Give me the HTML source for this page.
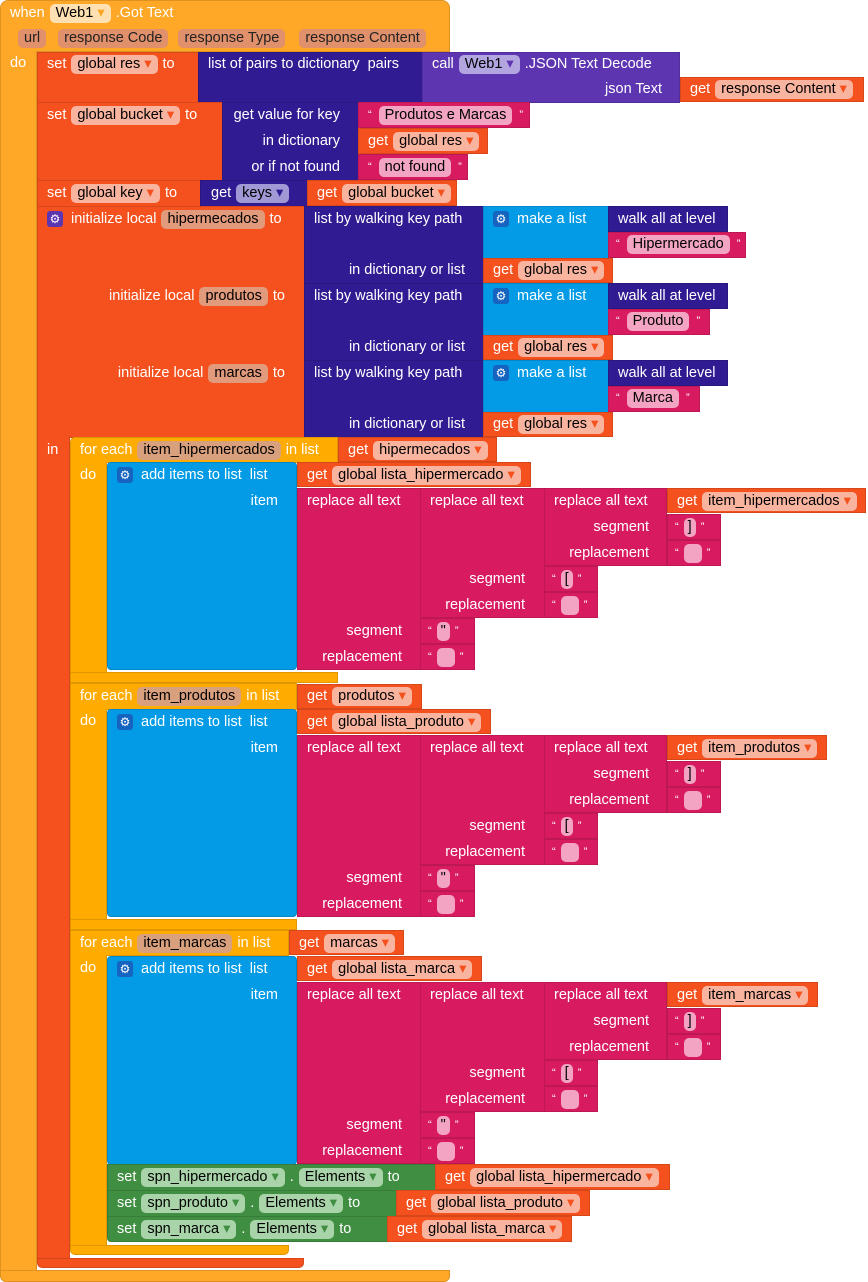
<!DOCTYPE html><html><head><meta charset="utf-8"><style>
body{margin:0;width:868px;height:1282px;background:#fff;position:relative;overflow:hidden;font-family:"Liberation Sans",sans-serif}
.b{position:absolute;box-sizing:border-box;border:1px solid rgba(0,0,0,.12)}
.ev{background:#FFA726}.vr{background:#F4511E}.dc{background:#311B92}.cp{background:#5E35B1}.tx{background:#D81B60}.ls{background:#039BE5}.fe{background:#FFAB00}.gr{background:#3F8E41}
.l{position:absolute;height:26px;line-height:26px;color:#fff;font-size:14.5px;white-space:nowrap;display:flex;align-items:center}
.r{justify-content:flex-end}
.p{display:inline-block;line-height:19px;padding:0 6px;border-radius:5px;color:#000;margin:0 5px;font-size:14.5px}
.pv{background:#F9B4A0}.pw{background:#FFE0B2}.pr{background:#E0906A;color:#222}.pd{background:#B3A6E0}.pk{background:#A198D6}.pt{background:#F2A4C2}.pg{background:#A9D4A9}.pl{background:#E29A7C}
.g{display:inline-block;width:16px;height:16px;background:#5E35B1;border-radius:3px;color:#fff;font-size:12px;line-height:16px;text-align:center;margin-right:8px}
.gb{background:#1565C0}
.q{font-size:11px;margin:0 2px}
</style></head><body>
<!-- event -->
<div class="b ev" style="left:0;top:0;width:450px;height:52px;border-radius:8px 8px 0 0"></div>
<div class="b ev" style="left:0;top:51px;width:37px;height:1221px;border-top:0"></div>
<div class="b ev" style="left:0;top:1270px;width:450px;height:12px;border-radius:0 0 6px 6px"></div>
<div class="l" style="left:10px;top:0">when<span class="p pw">Web1 <span style="color:#F9A825">▾</span></span>.Got Text</div>
<div class="l" style="left:13px;top:25px"><span class="p pr">url</span><span class="p pr" style="margin-left:7px">response Code</span><span class="p pr" style="margin-left:5px">response Type</span><span class="p pr" style="margin-left:9px">response Content</span></div>
<div class="l" style="left:10px;top:50px">do</div>

<!-- set res -->
<div class="b vr" style="left:37px;top:52px;width:162px;height:51px"></div>
<div class="b dc" style="left:198px;top:52px;width:225px;height:51px"></div>
<div class="b cp" style="left:422px;top:52px;width:258px;height:51px"></div>
<div class="b vr" style="left:680px;top:77px;width:184px;height:25px"></div>
<div class="l" style="left:47px;top:51px">set<span class="p pv">global res <span style="color:#F4511E">▾</span></span>to</div>
<div class="l" style="left:208px;top:51px">list of pairs to dictionary&nbsp;&nbsp;pairs</div>
<div class="l" style="left:432px;top:51px">call<span class="p pd">Web1 <span style="color:#5E35B1">▾</span></span>.JSON Text Decode</div>
<div class="l r" style="right:206px;top:76px">json Text</div>
<div class="l" style="left:690px;top:76px">get<span class="p pv">response Content <span style="color:#F4511E">▾</span></span></div>

<!-- set bucket -->
<div class="b vr" style="left:37px;top:102px;width:186px;height:79px"></div>
<div class="b dc" style="left:222px;top:102px;width:137px;height:79px"></div>
<div class="b tx" style="left:358px;top:102px;width:172px;height:26px"></div>
<div class="b vr" style="left:358px;top:128px;width:130px;height:26px"></div>
<div class="b tx" style="left:358px;top:154px;width:110px;height:26px"></div>
<div class="l" style="left:47px;top:102px">set<span class="p pv">global bucket <span style="color:#F4511E">▾</span></span>to</div>
<div class="l r" style="right:528px;top:102px">get value for key</div>
<div class="l r" style="right:528px;top:128px">in dictionary</div>
<div class="l r" style="right:528px;top:154px">or if not found</div>
<div class="l" style="left:366px;top:102px"><span class="q">“</span><span class="p pt">Produtos e Marcas</span><span class="q">”</span></div>
<div class="l" style="left:368px;top:128px">get<span class="p pv">global res <span style="color:#F4511E">▾</span></span></div>
<div class="l" style="left:366px;top:154px"><span class="q">“</span><span class="p pt">not found</span><span class="q">”</span></div>

<!-- set key -->
<div class="b vr" style="left:37px;top:180px;width:164px;height:27px"></div>
<div class="b dc" style="left:200px;top:180px;width:108px;height:27px"></div>
<div class="b vr" style="left:307px;top:180px;width:150px;height:26px"></div>
<div class="l" style="left:47px;top:180px">set<span class="p pv">global key <span style="color:#F4511E">▾</span></span>to</div>
<div class="l" style="left:211px;top:180px">get<span class="p pk">keys <span style="color:#311B92">▾</span></span></div>
<div class="l" style="left:317px;top:180px">get<span class="p pv">global bucket <span style="color:#F4511E">▾</span></span></div>

<!-- init local -->
<div class="b vr" style="left:37px;top:206px;width:268px;height:232px"></div>
<div class="b vr" style="left:37px;top:436px;width:33px;height:824px;border-top:0"></div>
<div class="b vr" style="left:37px;top:1258px;width:267px;height:10px;border-radius:0 0 5px 5px"></div>
<div class="l" style="left:47px;top:206px"><span class="g">⚙</span>initialize local<span class="p pl">hipermecados</span>to</div>
<div class="l r" style="right:583px;top:283px">initialize local<span class="p pl">produtos</span>to</div>
<div class="l r" style="right:583px;top:360px">initialize local<span class="p pl">marcas</span>to</div>
<div class="l" style="left:47px;top:437px">in</div>

<div class="b dc" style="left:304px;top:206px;width:180px;height:78px"></div>
<div class="b dc" style="left:304px;top:283px;width:180px;height:78px"></div>
<div class="b dc" style="left:304px;top:360px;width:180px;height:78px"></div>
<div class="b ls" style="left:483px;top:206px;width:126px;height:53px"></div>
<div class="b ls" style="left:483px;top:283px;width:126px;height:53px"></div>
<div class="b ls" style="left:483px;top:360px;width:126px;height:53px"></div>
<div class="b dc" style="left:608px;top:206px;width:120px;height:26px"></div>
<div class="b dc" style="left:608px;top:283px;width:120px;height:26px"></div>
<div class="b dc" style="left:608px;top:360px;width:120px;height:26px"></div>
<div class="b tx" style="left:608px;top:232px;width:138px;height:26px"></div>
<div class="b tx" style="left:608px;top:309px;width:102px;height:26px"></div>
<div class="b tx" style="left:608px;top:386px;width:92px;height:26px"></div>
<div class="b vr" style="left:483px;top:258px;width:130px;height:25px"></div>
<div class="b vr" style="left:483px;top:335px;width:130px;height:25px"></div>
<div class="b vr" style="left:483px;top:412px;width:130px;height:25px"></div>
<div class="l" style="left:314px;top:206px">list by walking key path</div>
<div class="l" style="left:314px;top:283px">list by walking key path</div>
<div class="l" style="left:314px;top:360px">list by walking key path</div>
<div class="l r" style="right:403px;top:257px">in dictionary or list</div>
<div class="l r" style="right:403px;top:334px">in dictionary or list</div>
<div class="l r" style="right:403px;top:411px">in dictionary or list</div>
<div class="l" style="left:493px;top:206px"><span class="g gb">⚙</span>make a list</div>
<div class="l" style="left:493px;top:283px"><span class="g gb">⚙</span>make a list</div>
<div class="l" style="left:493px;top:360px"><span class="g gb">⚙</span>make a list</div>
<div class="l" style="left:618px;top:206px">walk all at level</div>
<div class="l" style="left:618px;top:283px">walk all at level</div>
<div class="l" style="left:618px;top:360px">walk all at level</div>
<div class="l" style="left:614px;top:231px"><span class="q">“</span><span class="p pt">Hipermercado</span><span class="q">”</span></div>
<div class="l" style="left:614px;top:308px"><span class="q">“</span><span class="p pt">Produto</span><span class="q">”</span></div>
<div class="l" style="left:614px;top:385px"><span class="q">“</span><span class="p pt">Marca</span><span class="q">”</span></div>
<div class="l" style="left:493px;top:257px">get<span class="p pv">global res <span style="color:#F4511E">▾</span></span></div>
<div class="l" style="left:493px;top:334px">get<span class="p pv">global res <span style="color:#F4511E">▾</span></span></div>
<div class="l" style="left:493px;top:411px">get<span class="p pv">global res <span style="color:#F4511E">▾</span></span></div>

<!-- for each 1 -->
<div class="b fe" style="left:70px;top:437px;width:268px;height:26px;border-radius:5px 0 0 0"></div>
<div class="b fe" style="left:70px;top:462px;width:37px;height:211px;border-top:0"></div>
<div class="b fe" style="left:70px;top:672px;width:268px;height:11px"></div>
<div class="b vr" style="left:338px;top:437px;width:159px;height:25px"></div>
<div class="l" style="left:80px;top:437px">for each<span class="p" style="background:#D9A07E">item_hipermercados</span>in list</div>
<div class="l" style="left:348px;top:437px">get<span class="p pv">hipermecados <span style="color:#F4511E">▾</span></span></div>
<div class="l" style="left:80px;top:462px">do</div>

<!-- for each 2 -->
<div class="b fe" style="left:70px;top:683px;width:227px;height:27px"></div>
<div class="b fe" style="left:70px;top:709px;width:37px;height:211px;border-top:0"></div>
<div class="b fe" style="left:70px;top:919px;width:227px;height:11px"></div>
<div class="b vr" style="left:297px;top:684px;width:125px;height:25px"></div>
<div class="l" style="left:80px;top:683px">for each<span class="p" style="background:#D9A07E">item_produtos</span>in list</div>
<div class="l" style="left:307px;top:683px">get<span class="p pv">produtos <span style="color:#F4511E">▾</span></span></div>
<div class="l" style="left:80px;top:708px">do</div>

<!-- for each 3 -->
<div class="b fe" style="left:70px;top:930px;width:219px;height:26px"></div>
<div class="b fe" style="left:70px;top:955px;width:37px;height:291px;border-top:0"></div>
<div class="b fe" style="left:70px;top:1245px;width:219px;height:10px;border-radius:0 0 5px 5px"></div>
<div class="b vr" style="left:289px;top:930px;width:115px;height:25px"></div>
<div class="l" style="left:80px;top:930px">for each<span class="p" style="background:#D9A07E">item_marcas</span>in list</div>
<div class="l" style="left:299px;top:930px">get<span class="p pv">marcas <span style="color:#F4511E">▾</span></span></div>
<div class="l" style="left:80px;top:955px">do</div>

<!-- add items 1 (d=0) -->
<div class="b ls" style="left:107px;top:462px;width:190px;height:208px;border-radius:4px"></div>
<div class="b vr" style="left:297px;top:462px;width:234px;height:25px"></div>
<div class="b tx" style="left:297px;top:488px;width:124px;height:182px"></div>
<div class="b tx" style="left:420px;top:488px;width:125px;height:130px"></div>
<div class="b tx" style="left:544px;top:488px;width:123px;height:78px"></div>
<div class="b vr" style="left:667px;top:488px;width:199px;height:25px"></div>
<div class="b tx" style="left:667px;top:514px;width:54px;height:26px"></div>
<div class="b tx" style="left:667px;top:540px;width:54px;height:26px"></div>
<div class="b tx" style="left:544px;top:566px;width:54px;height:26px"></div>
<div class="b tx" style="left:544px;top:592px;width:54px;height:26px"></div>
<div class="b tx" style="left:420px;top:618px;width:55px;height:26px"></div>
<div class="b tx" style="left:420px;top:644px;width:55px;height:26px"></div>
<div class="l" style="left:117px;top:462px"><span class="g gb">⚙</span>add items to list&nbsp;&nbsp;list</div>
<div class="l r" style="right:590px;top:488px">item</div>
<div class="l" style="left:307px;top:462px">get<span class="p pv">global lista_hipermercado <span style="color:#F4511E">▾</span></span></div>
<div class="l" style="left:307px;top:488px">replace all text</div>
<div class="l" style="left:430px;top:488px">replace all text</div>
<div class="l" style="left:554px;top:488px">replace all text</div>
<div class="l" style="left:677px;top:488px">get<span class="p pv">item_hipermercados <span style="color:#F4511E">▾</span></span></div>
<div class="l r" style="right:219px;top:514px">segment</div>
<div class="l r" style="right:219px;top:540px">replacement</div>
<div class="l r" style="right:343px;top:566px">segment</div>
<div class="l r" style="right:343px;top:592px">replacement</div>
<div class="l r" style="right:466px;top:618px">segment</div>
<div class="l r" style="right:466px;top:644px">replacement</div>
<div class="l" style="left:673px;top:514px"><span class="q">“</span><span class="p pt" style="padding:0 4px;margin:0 3px">]</span><span class="q">”</span></div>
<div class="l" style="left:673px;top:540px"><span class="q">“</span><span class="p pt" style="padding:0 7px;margin:0 3px">&nbsp;</span><span class="q">”</span></div>
<div class="l" style="left:550px;top:566px"><span class="q">“</span><span class="p pt" style="padding:0 4px;margin:0 3px">[</span><span class="q">”</span></div>
<div class="l" style="left:550px;top:592px"><span class="q">“</span><span class="p pt" style="padding:0 7px;margin:0 3px">&nbsp;</span><span class="q">”</span></div>
<div class="l" style="left:426px;top:618px"><span class="q">“</span><span class="p pt" style="padding:0 4px;margin:0 3px">"</span><span class="q">”</span></div>
<div class="l" style="left:426px;top:644px"><span class="q">“</span><span class="p pt" style="padding:0 7px;margin:0 3px">&nbsp;</span><span class="q">”</span></div>

<!-- add items 2 (d=247) -->
<div class="b ls" style="left:107px;top:709px;width:190px;height:208px;border-radius:4px"></div>
<div class="b vr" style="left:297px;top:709px;width:194px;height:25px"></div>
<div class="b tx" style="left:297px;top:735px;width:124px;height:182px"></div>
<div class="b tx" style="left:420px;top:735px;width:125px;height:130px"></div>
<div class="b tx" style="left:544px;top:735px;width:123px;height:78px"></div>
<div class="b vr" style="left:667px;top:735px;width:160px;height:25px"></div>
<div class="b tx" style="left:667px;top:761px;width:54px;height:26px"></div>
<div class="b tx" style="left:667px;top:787px;width:54px;height:26px"></div>
<div class="b tx" style="left:544px;top:813px;width:54px;height:26px"></div>
<div class="b tx" style="left:544px;top:839px;width:54px;height:26px"></div>
<div class="b tx" style="left:420px;top:865px;width:55px;height:26px"></div>
<div class="b tx" style="left:420px;top:891px;width:55px;height:26px"></div>
<div class="l" style="left:117px;top:709px"><span class="g gb">⚙</span>add items to list&nbsp;&nbsp;list</div>
<div class="l r" style="right:590px;top:735px">item</div>
<div class="l" style="left:307px;top:709px">get<span class="p pv">global lista_produto <span style="color:#F4511E">▾</span></span></div>
<div class="l" style="left:307px;top:735px">replace all text</div>
<div class="l" style="left:430px;top:735px">replace all text</div>
<div class="l" style="left:554px;top:735px">replace all text</div>
<div class="l" style="left:677px;top:735px">get<span class="p pv">item_produtos <span style="color:#F4511E">▾</span></span></div>
<div class="l r" style="right:219px;top:761px">segment</div>
<div class="l r" style="right:219px;top:787px">replacement</div>
<div class="l r" style="right:343px;top:813px">segment</div>
<div class="l r" style="right:343px;top:839px">replacement</div>
<div class="l r" style="right:466px;top:865px">segment</div>
<div class="l r" style="right:466px;top:891px">replacement</div>
<div class="l" style="left:673px;top:761px"><span class="q">“</span><span class="p pt" style="padding:0 4px;margin:0 3px">]</span><span class="q">”</span></div>
<div class="l" style="left:673px;top:787px"><span class="q">“</span><span class="p pt" style="padding:0 7px;margin:0 3px">&nbsp;</span><span class="q">”</span></div>
<div class="l" style="left:550px;top:813px"><span class="q">“</span><span class="p pt" style="padding:0 4px;margin:0 3px">[</span><span class="q">”</span></div>
<div class="l" style="left:550px;top:839px"><span class="q">“</span><span class="p pt" style="padding:0 7px;margin:0 3px">&nbsp;</span><span class="q">”</span></div>
<div class="l" style="left:426px;top:865px"><span class="q">“</span><span class="p pt" style="padding:0 4px;margin:0 3px">"</span><span class="q">”</span></div>
<div class="l" style="left:426px;top:891px"><span class="q">“</span><span class="p pt" style="padding:0 7px;margin:0 3px">&nbsp;</span><span class="q">”</span></div>

<!-- add items 3 (d=494) -->
<div class="b ls" style="left:107px;top:956px;width:190px;height:209px;border-radius:4px"></div>
<div class="b vr" style="left:297px;top:956px;width:185px;height:25px"></div>
<div class="b tx" style="left:297px;top:982px;width:124px;height:182px"></div>
<div class="b tx" style="left:420px;top:982px;width:125px;height:130px"></div>
<div class="b tx" style="left:544px;top:982px;width:123px;height:78px"></div>
<div class="b vr" style="left:667px;top:982px;width:151px;height:25px"></div>
<div class="b tx" style="left:667px;top:1008px;width:54px;height:26px"></div>
<div class="b tx" style="left:667px;top:1034px;width:54px;height:26px"></div>
<div class="b tx" style="left:544px;top:1060px;width:54px;height:26px"></div>
<div class="b tx" style="left:544px;top:1086px;width:54px;height:26px"></div>
<div class="b tx" style="left:420px;top:1112px;width:55px;height:26px"></div>
<div class="b tx" style="left:420px;top:1138px;width:55px;height:26px"></div>
<div class="l" style="left:117px;top:956px"><span class="g gb">⚙</span>add items to list&nbsp;&nbsp;list</div>
<div class="l r" style="right:590px;top:982px">item</div>
<div class="l" style="left:307px;top:956px">get<span class="p pv">global lista_marca <span style="color:#F4511E">▾</span></span></div>
<div class="l" style="left:307px;top:982px">replace all text</div>
<div class="l" style="left:430px;top:982px">replace all text</div>
<div class="l" style="left:554px;top:982px">replace all text</div>
<div class="l" style="left:677px;top:982px">get<span class="p pv">item_marcas <span style="color:#F4511E">▾</span></span></div>
<div class="l r" style="right:219px;top:1008px">segment</div>
<div class="l r" style="right:219px;top:1034px">replacement</div>
<div class="l r" style="right:343px;top:1060px">segment</div>
<div class="l r" style="right:343px;top:1086px">replacement</div>
<div class="l r" style="right:466px;top:1112px">segment</div>
<div class="l r" style="right:466px;top:1138px">replacement</div>
<div class="l" style="left:673px;top:1008px"><span class="q">“</span><span class="p pt" style="padding:0 4px;margin:0 3px">]</span><span class="q">”</span></div>
<div class="l" style="left:673px;top:1034px"><span class="q">“</span><span class="p pt" style="padding:0 7px;margin:0 3px">&nbsp;</span><span class="q">”</span></div>
<div class="l" style="left:550px;top:1060px"><span class="q">“</span><span class="p pt" style="padding:0 4px;margin:0 3px">[</span><span class="q">”</span></div>
<div class="l" style="left:550px;top:1086px"><span class="q">“</span><span class="p pt" style="padding:0 7px;margin:0 3px">&nbsp;</span><span class="q">”</span></div>
<div class="l" style="left:426px;top:1112px"><span class="q">“</span><span class="p pt" style="padding:0 4px;margin:0 3px">"</span><span class="q">”</span></div>
<div class="l" style="left:426px;top:1138px"><span class="q">“</span><span class="p pt" style="padding:0 7px;margin:0 3px">&nbsp;</span><span class="q">”</span></div>

<!-- green setters -->
<div class="b gr" style="left:107px;top:1164px;width:329px;height:27px"></div>
<div class="b gr" style="left:107px;top:1190px;width:290px;height:27px"></div>
<div class="b gr" style="left:107px;top:1216px;width:281px;height:26px;border-radius:0 0 0 4px"></div>
<div class="b vr" style="left:435px;top:1164px;width:235px;height:26px"></div>
<div class="b vr" style="left:396px;top:1190px;width:194px;height:26px"></div>
<div class="b vr" style="left:387px;top:1216px;width:185px;height:26px"></div>
<div class="l" style="left:117px;top:1164px">set<span class="p pg">spn_hipermercado <span style="color:#3F8E41">▾</span></span>.<span class="p pg">Elements <span style="color:#3F8E41">▾</span></span>to</div>
<div class="l" style="left:117px;top:1190px">set<span class="p pg">spn_produto <span style="color:#3F8E41">▾</span></span>.<span class="p pg">Elements <span style="color:#3F8E41">▾</span></span>to</div>
<div class="l" style="left:117px;top:1216px">set<span class="p pg">spn_marca <span style="color:#3F8E41">▾</span></span>.<span class="p pg">Elements <span style="color:#3F8E41">▾</span></span>to</div>
<div class="l" style="left:445px;top:1164px">get<span class="p pv">global lista_hipermercado <span style="color:#F4511E">▾</span></span></div>
<div class="l" style="left:406px;top:1190px">get<span class="p pv">global lista_produto <span style="color:#F4511E">▾</span></span></div>
<div class="l" style="left:397px;top:1216px">get<span class="p pv">global lista_marca <span style="color:#F4511E">▾</span></span></div>
</body></html>
